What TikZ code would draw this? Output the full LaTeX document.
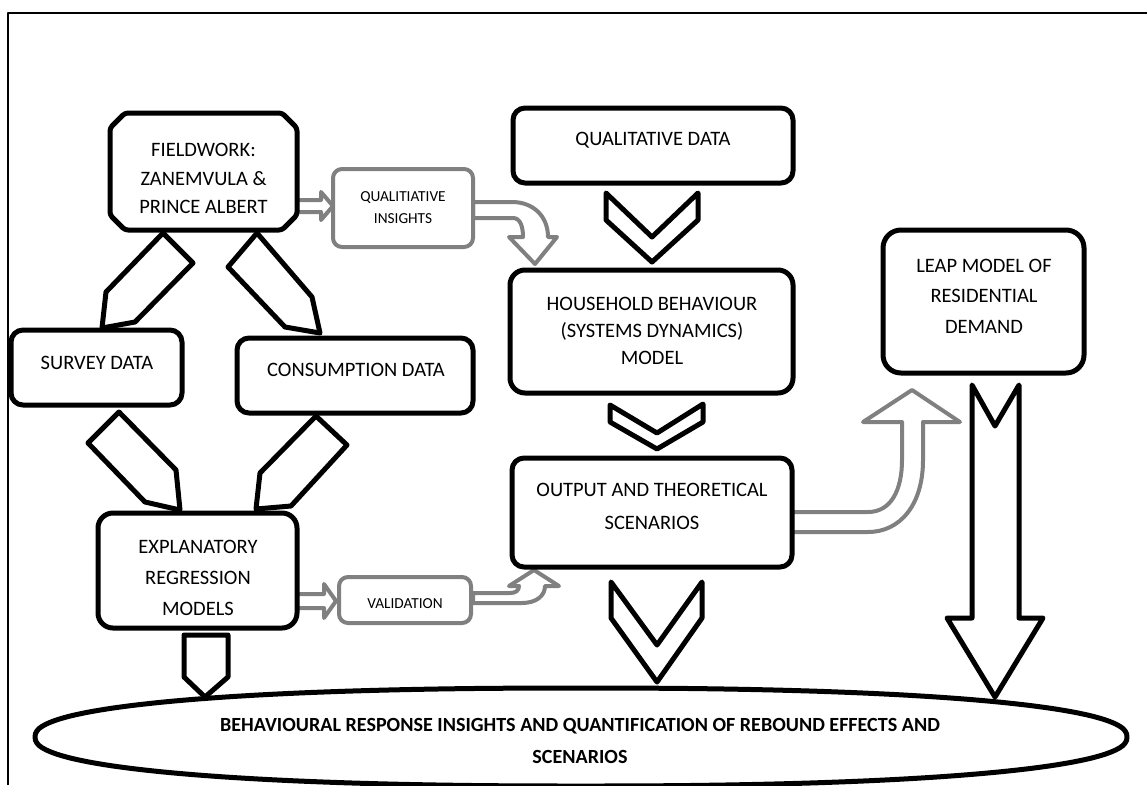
\documentclass[tikz,border=0pt]{standalone}
\usepackage{fontspec}
\setmainfont{Carlito}
\definecolor{arrowgray}{HTML}{808080}
\begin{document}
\begin{tikzpicture}[x=1pt,y=-1pt,line join=round,
  box/.style={draw=black,line width=5pt,fill=white,rounded corners=12pt,inner sep=0pt},
  graybox/.style={draw=arrowgray,line width=4pt,fill=white,rounded corners=9pt,inner sep=0pt},
  boxtext/.style={font=\fontsize{20.5}{29}\selectfont,align=center,inner sep=0pt},
  smalltext/.style={font=\fontsize{15.3}{22}\selectfont,align=center,inner sep=0pt},
  blockarrow/.style={draw=black,line width=5pt,fill=white},
  grayarrow/.style={draw=arrowgray,line width=4pt,fill=white}]
\useasboundingbox (0,0) rectangle (1147,785);

% page frame (top and left rules)
\draw[line width=2pt] (8,785) -- (8,13) -- (1147,13);

% result ellipse
\draw[line width=5pt,fill=white] plot[smooth cycle,domain=2.5:357.5,samples=72]
  ({581+546*sign(cos(\x))*abs(cos(\x))^0.87},{737+49*sign(sin(\x))*abs(sin(\x))^0.87});
\node[font=\bfseries\fontsize{20.1}{32}\selectfont,align=center,inner sep=0pt] (result) at (580,741)
  {BEHAVIOURAL RESPONSE INSIGHTS AND QUANTIFICATION OF REBOUND EFFECTS AND\\SCENARIOS};

% pentagon arrows, left column
\draw[blockarrow] (163,233) -- (193,263) -- (135,322) -- (102,328) -- (106,292) -- cycle;
\draw[blockarrow] (257,233) -- (228,267) -- (285,327) -- (320,333) -- (312,297) -- cycle;
\draw[blockarrow] (119,412) -- (88,443) -- (145,502) -- (180,510) -- (176,470) -- cycle;
\draw[blockarrow] (316,416) -- (347,445) -- (291,506) -- (256,509) -- (260,473) -- cycle;
\draw[blockarrow] (184,635) -- (228,635) -- (228,677) -- (205,697) -- (184,677) -- cycle;

% chevrons, middle column
\draw[blockarrow] (606,193) -- (652,237) -- (698,193) -- (698,220) -- (652,262) -- (606,220) -- cycle;
\draw[blockarrow] (610,405) -- (657,433) -- (703,404) -- (703,422) -- (657,449) -- (610,422) -- cycle;
\draw[blockarrow] (611,582) -- (657,645) -- (702,582) -- (702,618) -- (657,682) -- (611,618) -- cycle;

% notched down arrow, right column
\draw[blockarrow] (972,385) -- (995,426) -- (1019,385) -- (1019,618) -- (1043,618)
  -- (995,697) -- (947,618) -- (972,618) -- cycle;

% grey outline arrows
\draw[grayarrow] (297,200) -- (321,200) -- (321,192) -- (333,206) -- (321,220) -- (321,212) -- (297,212) -- cycle;
\draw[grayarrow] (297,594) -- (324,594) -- (324,584) -- (336,601) -- (324,618) -- (324,608) -- (297,608) -- cycle;
\draw[grayarrow] (473,202) -- (512,202) .. controls (533,202) and (548,216) .. (548,237)
  -- (557,237) -- (535,264) -- (509,237) -- (523,237)
  .. controls (523,226) and (520,218) .. (513,218) -- (473,218) -- cycle;
\draw[grayarrow] (473,603) -- (522,603) .. controls (536,603) and (545,596) .. (545,586)
  -- (559,586) -- (534,570) -- (509,586) -- (519,586)
  .. controls (519,591) and (515,593) .. (510,593) -- (473,593) -- cycle;
\draw[grayarrow] (792,512) -- (868,512) .. controls (891,512) and (902,490) .. (902,460)
  -- (902,422) -- (863,422) -- (912,390) -- (960,422) -- (923,422) -- (923,460)
  .. controls (923,505) and (900,532) .. (868,532) -- (792,532) -- cycle;

% fieldwork box with cut corners
\node[minimum width=187pt,minimum height=117pt,inner sep=0pt,outer sep=0pt] (field) at (203.5,171.5) {};
\draw[line width=5pt,fill=white,rounded corners=3pt]
  ([xshift=15pt]field.north west) -- ([xshift=-15pt]field.north east)
  -- ([yshift=-15pt]field.north east) -- ([yshift=15pt]field.south east)
  -- ([xshift=-15pt]field.south east) -- ([xshift=15pt]field.south west)
  -- ([yshift=15pt]field.south west) -- ([yshift=-15pt]field.north west) -- cycle;
\node[boxtext,font=\fontsize{20.5}{28.5}\selectfont] (fieldtext) at (203.5,178.5) {FIELDWORK:\\ZANEMVULA \&\\PRINCE ALBERT};

% left column boxes
\node[box,minimum width=171pt,minimum height=75pt] (survey) at (96.5,367.5) {};
\node[boxtext] (surveytext) at (97,363) {SURVEY DATA};
\node[box,minimum width=236pt,minimum height=75pt] (cons) at (355,375.5) {};
\node[boxtext] (constext) at (356,370) {CONSUMPTION DATA};
\node[box,rounded corners=15pt,minimum width=199pt,minimum height=115pt] (expl) at (197.5,570.5) {};
\node[boxtext,font=\fontsize{20.5}{31}\selectfont] (expltext) at (198,578) {EXPLANATORY\\REGRESSION\\MODELS};

% grey boxes
\node[graybox,minimum width=140pt,minimum height=78pt] (qins) at (403,208) {};
\node[smalltext] (qinstext) at (403,208) {QUALITIATIVE\\INSIGHTS};
\node[graybox,minimum width=132pt,minimum height=46pt] (valid) at (405,600) {};
\node[smalltext] (validtext) at (405,604) {VALIDATION};

% middle column boxes
\node[box,minimum width=280pt,minimum height=75pt] (qdata) at (653,145.5) {};
\node[boxtext] (qdatatext) at (653,140) {QUALITATIVE DATA};
\node[box,rounded corners=15pt,minimum width=283pt,minimum height=123pt] (house) at (651.5,331.5) {};
\node[boxtext,font=\fontsize{20.5}{27}\selectfont] (housetext) at (652,331) {HOUSEHOLD BEHAVIOUR\\(SYSTEMS DYNAMICS)\\MODEL};
\node[box,minimum width=280pt,minimum height=109pt] (outp) at (652,512.5) {};
\node[boxtext,font=\fontsize{20.5}{33}\selectfont] (outptext) at (652,506.5) {OUTPUT AND THEORETICAL\\SCENARIOS};

% right column box
\node[box,rounded corners=18pt,minimum width=201pt,minimum height=143pt] (leap) at (983.5,301.5) {};
\node[boxtext,font=\fontsize{20.5}{30.5}\selectfont] (leaptext) at (984,296) {LEAP MODEL OF\\RESIDENTIAL\\DEMAND};
\end{tikzpicture}
\end{document}
